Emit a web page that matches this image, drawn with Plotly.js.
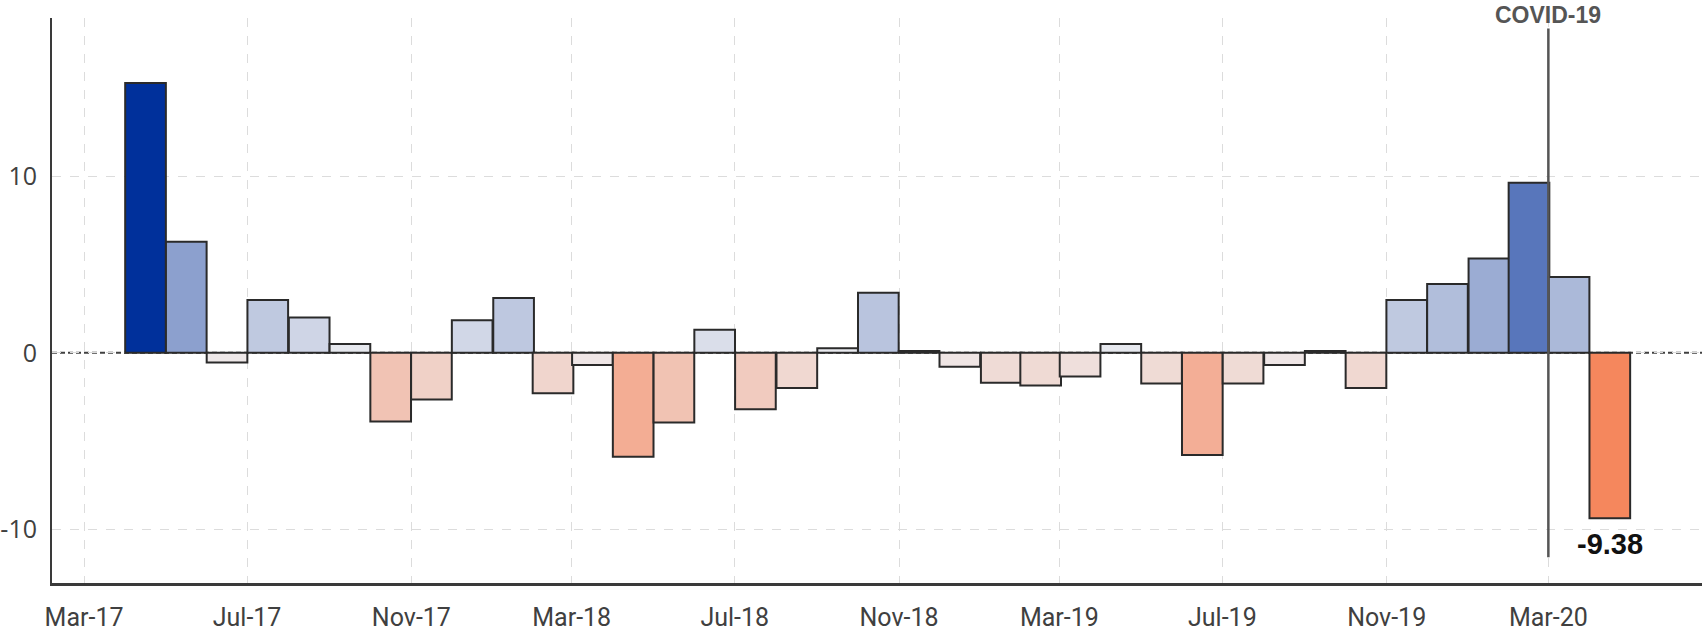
<!DOCTYPE html>
<html>
<head>
<meta charset="utf-8">
<script src="https://cdn.plot.ly/plotly-3.0.1.min.js"></script>
<style>
  html, body { margin: 0; padding: 0; background: #ffffff; }
  #chart { width: 1702px; height: 634px; }
</style>
</head>
<body>
<div id="chart"></div>
<script>
// Months (first day of each month) for each bar
const months = [
  '2017-04','2017-05','2017-06','2017-07','2017-08','2017-09','2017-10','2017-11','2017-12',
  '2018-01','2018-02','2018-03','2018-04','2018-05','2018-06','2018-07','2018-08','2018-09','2018-10','2018-11','2018-12',
  '2019-01','2019-02','2019-03','2019-04','2019-05','2019-06','2019-07','2019-08','2019-09','2019-10','2019-11','2019-12',
  '2020-01','2020-02','2020-03','2020-04'
];
// Monthly change values
const values = [
  15.3, 6.3, -0.55, 3.0, 2.0, 0.5, -3.9, -2.65, 1.85,
  3.1, -2.3, -0.7, -5.9, -3.95, 1.3, -3.2, -2.0, 0.25, 3.4, 0.1, -0.8,
  -1.7, -1.85, -1.35, 0.5, -1.75, -5.8, -1.75, -0.7, 0.1, -2.0, 3.0, 3.9,
  5.35, 9.65, 4.3, -9.38
];
// Event marker
const eventDate = '2020-03-01';
const eventLabel = 'COVID-19';
const xRange = ['2017-02-05', '2020-06-24'];
const yRange = [-13.06, 18.99];
const yTicks = [-10, 0, 10];
const yTickText = yTicks.map(v => String(v));

const DAY = 86400000;
const monthWidth = 30.44 * DAY;

function midMonth(m) {
  const [y, mo] = m.split('-').map(Number);
  const a = Date.UTC(y, mo - 1, 1);
  const b = Date.UTC(y, mo, 1);
  return new Date((a + b) / 2).toISOString().slice(0, 19).replace('T', ' ');
}

const lastIdx = values.length - 1;

const trace = {
  type: 'bar',
  x: months,
  y: values,
  xperiod: 'M1',
  xperiodalignment: 'middle',
  width: monthWidth,
  marker: {
    color: values,
    cmid: 0,
    colorscale: [
      [0, 'rgb(250,70,0)'],
      [0.5, 'rgb(238,238,241)'],
      [1, 'rgb(0,48,155)']
    ],
    showscale: false,
    line: { color: '#2a2a2a', width: 2 }
  },
  hoverinfo: 'x+y'
};

const layout = {
  width: 1702,
  height: 634,
  margin: { l: 52, r: 0, t: 18, b: 51 },
  paper_bgcolor: '#ffffff',
  plot_bgcolor: '#ffffff',
  showlegend: false,
  bargap: 0,
  xaxis: {
    type: 'date',
    range: xRange,
    tick0: '2017-03-01',
    dtick: 'M4',
    tickformat: '%b-%y',
    showgrid: true,
    gridcolor: '#dcdcdc',
    griddash: 'dash',
    gridwidth: 1,
    showline: true,
    linecolor: '#3a3a3a',
    linewidth: 2.5,
    ticks: '',
    ticklabelstandoff: 10,
    tickfont: { family: 'Roboto, Arial, sans-serif', size: 25, color: '#404040' },
    zeroline: false
  },
  yaxis: {
    range: yRange,
    tickvals: yTicks,
    ticktext: yTickText,
    showgrid: true,
    gridcolor: '#dcdcdc',
    griddash: 'dash',
    gridwidth: 1,
    showline: true,
    linecolor: '#3a3a3a',
    linewidth: 2,
    ticks: '',
    ticklabelstandoff: 8,
    tickfont: { family: '"Open Sans", Arial, sans-serif', size: 25, color: '#404040' },
    zeroline: false
  },
  shapes: [
    {
      type: 'line', layer: 'below',
      xref: 'paper', x0: 0, x1: 1,
      yref: 'y', y0: 0, y1: 0,
      line: { color: '#404040', width: 2, dash: '5px,3px' }
    },
    {
      type: 'line', layer: 'above',
      xref: 'x', x0: eventDate, x1: eventDate,
      yref: 'y', y0: -11.6, y1: 18.4,
      line: { color: '#555555', width: 2.5 }
    }
  ],
  annotations: [
    {
      xref: 'x', x: eventDate,
      yref: 'paper', y: 1.005, yanchor: 'middle',
      text: '<b>' + eventLabel + '</b>',
      showarrow: false,
      font: { family: '"Liberation Sans", Arial, sans-serif', size: 23, color: '#555555' }
    },
    {
      xref: 'x', x: midMonth(months[lastIdx]),
      yref: 'y', y: values[lastIdx], yanchor: 'top', yshift: -8,
      text: '<b>' + values[lastIdx].toFixed(2) + '</b>',
      showarrow: false,
      font: { family: '"Liberation Sans", Arial, sans-serif', size: 29, color: '#111111' }
    }
  ]
};

Plotly.newPlot('chart', [trace], layout, { displayModeBar: false, staticPlot: true });
</script>
</body>
</html>
